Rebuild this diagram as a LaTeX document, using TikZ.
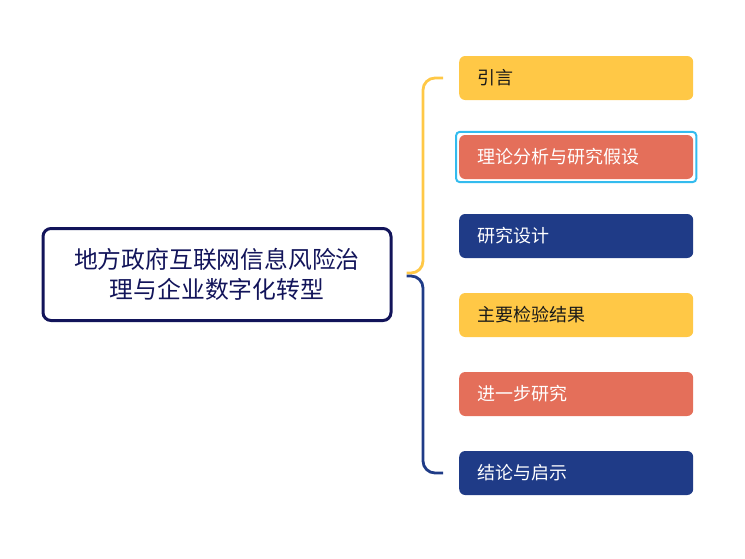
\documentclass[tikz,border=0pt]{standalone}
\usepackage{fontspec}
\newfontfamily\cjk{Noto Sans CJK SC}
\definecolor{ylw}{HTML}{FFC846}
\definecolor{coral}{HTML}{E46F5A}
\definecolor{navy}{HTML}{1F3B87}
\definecolor{rootc}{HTML}{12145A}
\definecolor{selc}{HTML}{33BBEE}
\tikzset{
  box/.style={anchor=west, rounded corners=6pt, minimum height=44pt, text width=198pt, inner xsep=18pt, inner ysep=0pt, align=left, font=\cjk\fontsize{18}{21}\selectfont},
  ybox/.style={box, fill=ylw, text=black!90},
  cbox/.style={box, fill=coral, text=white},
  nbox/.style={box, fill=navy, text=white},
  conn/.style={line width=2.8pt, rounded corners=12pt},
}
\begin{document}
\begin{tikzpicture}[x=1pt,y=-1pt]
\useasboundingbox (0,0) rectangle (745,558);
\node[draw=rootc, line width=3pt, rounded corners=8pt, minimum width=348pt, minimum height=92pt, text width=330pt, align=center, text=rootc, font=\cjk\fontsize{23.8}{29.5}\selectfont] (root) at (217,274.5) {地方政府互联网信息风险治\\理与企业数字化转型};
\node[ybox] (b1) at (459,78) {引言};
\node[cbox] (b2) at (459,157) {理论分析与研究假设};
\node[nbox] (b3) at (459,236) {研究设计};
\node[ybox] (b4) at (459,315) {主要检验结果};
\node[cbox] (b5) at (459,394) {进一步研究};
\node[nbox] (b6) at (459,473) {结论与启示};
\draw[selc, line width=2pt, rounded corners=4pt] ([shift={(-3pt,3pt)}]b2.north west) rectangle ([shift={(3pt,-3pt)}]b2.south east);
\draw[conn, ylw] ([xshift=14pt,yshift=1.5pt]root.east) -| ([xshift=-36pt]b1.west) -- ([xshift=-16pt]b1.west);
\draw[conn, navy] ([xshift=14pt,yshift=-1.5pt]root.east) -| ([xshift=-36pt]b6.west) -- ([xshift=-16pt]b6.west);
\end{tikzpicture}
\end{document}
